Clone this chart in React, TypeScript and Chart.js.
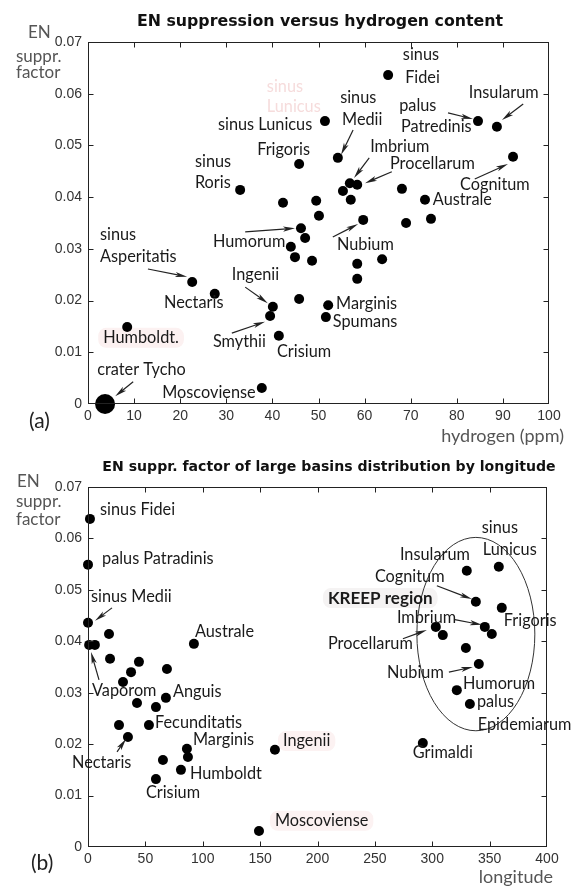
import React, { useEffect, useRef } from "react";
import { Chart, registerables } from "chart.js";

Chart.register(...registerables);

// ---------- Panel (a): EN suppression factor vs hydrogen content ----------
const hydrogenPpm = [
  8.5, 22.6, 27.5, 33.0, 37.7, 39.5, 40.1, 41.4, 42.3, 44.0, 44.9, 45.8, 45.8,
  46.2, 47.1, 48.6, 49.5, 50.1, 51.4, 51.6, 52.1, 54.2, 55.3, 56.8, 57.0, 58.4,
  58.4, 58.4, 59.7, 63.8, 65.1, 68.1, 69.0, 73.1, 74.4, 84.6, 88.7, 92.2,
];
const suppressionByHydrogen = [
  0.0149, 0.0236, 0.0213, 0.0414, 0.0031, 0.017, 0.0188, 0.0132, 0.0389, 0.0304,
  0.0284, 0.0464, 0.0203, 0.034, 0.0321, 0.0277, 0.0393, 0.0364, 0.0547, 0.0168,
  0.0191, 0.0476, 0.0412, 0.0427, 0.0395, 0.0424, 0.0271, 0.0242, 0.0356, 0.028,
  0.0636, 0.0416, 0.035, 0.0395, 0.0358, 0.0547, 0.0536, 0.0478,
];
const tychoHydrogen = [3.7];
const tychoSuppression = [0];

// ---------- Panel (b): EN suppression factor vs longitude ----------
const basinLongitude = [
  1.7, 0, 0, 18.3, 1, 6, 92.3, 19.2, 44.4, 37.5, 68.8, 30.5, 67.9, 42.7, 59.2,
  27.0, 53.1, 34.8, 86.2, 87.1, 65.3, 81.0, 59.2, 162.9, 149.0, 291.8, 330.1,
  358.0, 338.0, 360.6, 303.1, 309.2, 345.8, 351.9, 329.3, 340.6, 321.4, 332.8,
];
const suppressionByLongitude = [
  0.0638, 0.0549, 0.0436, 0.0414, 0.0393, 0.0393, 0.0395, 0.0366, 0.036, 0.034,
  0.0346, 0.0321, 0.029, 0.028, 0.0272, 0.0237, 0.0237, 0.0214, 0.0191, 0.0175,
  0.0169, 0.015, 0.0132, 0.0189, 0.0031, 0.0202, 0.0537, 0.0545, 0.0477, 0.0465,
  0.0428, 0.0412, 0.0428, 0.0414, 0.0387, 0.0356, 0.0305, 0.0278,
];

// KREEP region outline (data units: longitude, suppression factor)
const kreepCenter = [338, 0.0414];
const kreepRadii = [51.4, 0.0188];

// ---------- annotations (anchored in data units) ----------
type Label = { text: string; x: number; y: number; bold?: boolean; color?: string; bg?: string };
type Arrow = [number, number, number, number];

const labelsA: Label[] = [
  { text: "sinus", x: 68.3, y: 0.0675 },
  { text: "Fidei", x: 68.8, y: 0.0631 },
  { text: "sinus", x: 38.8, y: 0.0613, color: "#f6dcdc" },
  { text: "Lunicus", x: 38.8, y: 0.0574, color: "#f6dcdc" },
  { text: "sinus Lunicus", x: 28.2, y: 0.054 },
  { text: "Frigoris", x: 36.7, y: 0.0491 },
  { text: "sinus", x: 23.2, y: 0.0468 },
  { text: "Roris", x: 23.2, y: 0.0427 },
  { text: "sinus", x: 54.7, y: 0.0592 },
  { text: "Medii", x: 55.1, y: 0.0549 },
  { text: "palus", x: 67.5, y: 0.0576 },
  { text: "Patredinis", x: 67.9, y: 0.0536 },
  { text: "Insularum", x: 82.6, y: 0.0602 },
  { text: "Imbrium", x: 61.2, y: 0.0497 },
  { text: "Procellarum", x: 65.5, y: 0.0464 },
  { text: "Cognitum", x: 80.7, y: 0.0424 },
  { text: "Australe", x: 74.8, y: 0.0395 },
  { text: "Humorum", x: 27.1, y: 0.0313 },
  { text: "Nubium", x: 54.0, y: 0.0308 },
  { text: "sinus", x: 2.6, y: 0.0327 },
  { text: "Asperitatis", x: 2.6, y: 0.0284 },
  { text: "Nectaris", x: 16.5, y: 0.0195 },
  { text: "Ingenii", x: 31.2, y: 0.025 },
  { text: "Smythii", x: 27.1, y: 0.012 },
  { text: "Humboldt.", x: 3.3, y: 0.0128, bg: "#fcf1f1" },
  { text: "Crisium", x: 41.0, y: 0.0101 },
  { text: "Marginis", x: 53.8, y: 0.0193 },
  { text: "Spumans", x: 53.1, y: 0.0159 },
  { text: "crater Tycho", x: 2.0, y: 0.0066 },
  { text: "Moscoviense", x: 16.1, y: 0.0021 },
];
const arrowsA: Arrow[] = [
  [57.5, 0.053, 54.9, 0.0482],
  [78.1, 0.0563, 83.5, 0.0551],
  [94.4, 0.058, 89.8, 0.0549],
  [61.0, 0.0476, 57.7, 0.0437],
  [65.9, 0.0449, 60.1, 0.0427],
  [83.9, 0.0435, 91.1, 0.0464],
  [34.1, 0.0333, 44.9, 0.034],
  [53.1, 0.0323, 58.6, 0.0348],
  [13.0, 0.0261, 21.5, 0.0246],
  [34.1, 0.0226, 39.0, 0.0195],
  [31.2, 0.0137, 38.4, 0.0159],
  [9.8, 0.0043, 5.9, 0.0015],
];

const labelsB: Label[] = [
  { text: "sinus Fidei", x: 10.5, y: 0.0656 },
  { text: "palus Patradinis", x: 12.2, y: 0.056 },
  { text: "sinus Medii", x: 2.6, y: 0.0486 },
  { text: "Australe", x: 93.2, y: 0.0418 },
  { text: "Vaporom", x: 3.5, y: 0.0304 },
  { text: "Anguis", x: 74.0, y: 0.0302 },
  { text: "Fecunditatis", x: 58.4, y: 0.0241 },
  { text: "Marginis", x: 91.5, y: 0.0208 },
  { text: "Nectaris", x: -13.9, y: 0.0163 },
  { text: "Humboldt", x: 88.9, y: 0.0142 },
  { text: "Crisium", x: 50.5, y: 0.0105 },
  { text: "Ingenii", x: 169.9, y: 0.0206, bg: "#fcf2f2" },
  { text: "Moscoviense", x: 162.9, y: 0.0051, bg: "#fcf2f2" },
  { text: "Grimaldi", x: 283.1, y: 0.0183 },
  { text: "sinus", x: 343.2, y: 0.0621 },
  { text: "Lunicus", x: 344.1, y: 0.0578 },
  { text: "Insularum", x: 271.8, y: 0.0568 },
  { text: "Cognitum", x: 250.0, y: 0.0525 },
  { text: "KREEP region", x: 209.1, y: 0.0484, bold: true, bg: "#f5f3f3" },
  { text: "Imbrium", x: 269.2, y: 0.0446 },
  { text: "Frigoris", x: 362.4, y: 0.044 },
  { text: "Procellarum", x: 209.1, y: 0.0395 },
  { text: "Nubium", x: 260.5, y: 0.0339 },
  { text: "Humorum", x: 326.7, y: 0.0317 },
  { text: "palus", x: 338.9, y: 0.0282 },
  { text: "Epidemiarum", x: 339.7, y: 0.0237 },
];
const arrowsB: Arrow[] = [
  [20.9, 0.0465, 6.1, 0.044],
  [9.6, 0.0325, 2.6, 0.0379],
  [25.3, 0.0185, 33.1, 0.021],
  [304.0, 0.0508, 334.5, 0.0482],
  [319.7, 0.0442, 343.2, 0.0432],
  [274.4, 0.0405, 295.3, 0.0422],
  [314.5, 0.034, 335.4, 0.035],
];

// ---------- drawing helpers ----------
const LABEL_FAMILY = 'Lato, "Open Sans", sans-serif';
const LABEL_FONT = "16.3px " + LABEL_FAMILY;
const BOLD_FONT = "bold 17px " + LABEL_FAMILY;
const TICK_FONT = { family: '"Liberation Sans", Arial, sans-serif', size: 14 };

type Decor = {
  title: string;
  titleFont: string;
  titleX: number;
  titleY: number;
  yLabel: { text: string; x: number; y: number }[];
  xLabel: { text: string; x: number; y: number };
  panel: { text: string; x: number; y: number };
  labels: Label[];
  arrows: Arrow[];
  ellipse?: { c: number[]; r: number[] };
};

function drawArrow(ctx: CanvasRenderingContext2D, x1: number, y1: number, x2: number, y2: number) {
  const ang = Math.atan2(y2 - y1, x2 - x1);
  const len = 12;
  const hw = 2.6;
  const c = Math.cos(ang);
  const s = Math.sin(ang);
  ctx.beginPath();
  ctx.moveTo(x1, y1);
  ctx.lineTo(x2 - len * 0.7 * c, y2 - len * 0.7 * s);
  ctx.stroke();
  ctx.beginPath();
  ctx.moveTo(x2, y2);
  ctx.lineTo(x2 - len * c + hw * s, y2 - len * s - hw * c);
  ctx.lineTo(x2 - len * 0.75 * c, y2 - len * 0.75 * s);
  ctx.lineTo(x2 - len * c - hw * s, y2 - len * s + hw * c);
  ctx.closePath();
  ctx.fill();
}

function decorPlugin(d: Decor) {
  return {
    id: "decor",
    beforeDatasetsDraw(chart: any) {
      const { ctx, scales } = chart;
      ctx.save();
      d.labels.forEach((lb) => {
        if (!lb.bg) return;
        ctx.font = lb.bold ? BOLD_FONT : LABEL_FONT;
        const px = scales.x.getPixelForValue(lb.x);
        const py = scales.y.getPixelForValue(lb.y);
        const w = ctx.measureText(lb.text).width;
        ctx.fillStyle = lb.bg;
        ctx.beginPath();
        ctx.roundRect(px - 5, py - 10, w + 10, 20, 8);
        ctx.fill();
      });
      ctx.restore();
    },
    afterDraw(chart: any) {
      const { ctx, chartArea: a, scales } = chart;
      const xs = scales.x;
      const ys = scales.y;
      const L = Math.round(a.left) + 0.5;
      const R = Math.round(a.right) - 0.5;
      const T = Math.round(a.top) + 0.5;
      const B = Math.round(a.bottom) - 0.5;
      ctx.save();
      // frame with inward ticks on all sides
      ctx.strokeStyle = "#222";
      ctx.lineWidth = 1;
      ctx.strokeRect(L, T, R - L, B - T);
      const tl = 5;
      ctx.beginPath();
      xs.ticks.forEach((t: any) => {
        const p = Math.round(xs.getPixelForValue(t.value)) + 0.5;
        if (p <= L + 1 || p >= R - 1) return;
        ctx.moveTo(p, B);
        ctx.lineTo(p, B - tl);
        ctx.moveTo(p, T);
        ctx.lineTo(p, T + tl);
      });
      ys.ticks.forEach((t: any) => {
        const p = Math.round(ys.getPixelForValue(t.value)) + 0.5;
        if (p <= T + 1 || p >= B - 1) return;
        ctx.moveTo(L, p);
        ctx.lineTo(L + tl, p);
        ctx.moveTo(R, p);
        ctx.lineTo(R - tl, p);
      });
      ctx.stroke();

      // ellipse
      if (d.ellipse) {
        const cx = xs.getPixelForValue(d.ellipse.c[0]);
        const cy = ys.getPixelForValue(d.ellipse.c[1]);
        const rx = Math.abs(xs.getPixelForValue(d.ellipse.c[0] + d.ellipse.r[0]) - cx);
        const ry = Math.abs(ys.getPixelForValue(d.ellipse.c[1] + d.ellipse.r[1]) - cy);
        ctx.strokeStyle = "#333";
        ctx.beginPath();
        ctx.ellipse(cx, cy, rx, ry, 0, 0, Math.PI * 2);
        ctx.stroke();
      }

      // arrows
      ctx.strokeStyle = "#222";
      ctx.fillStyle = "#222";
      ctx.lineWidth = 1.2;
      d.arrows.forEach(([x1, y1, x2, y2]) => {
        drawArrow(
          ctx,
          xs.getPixelForValue(x1),
          ys.getPixelForValue(y1),
          xs.getPixelForValue(x2),
          ys.getPixelForValue(y2)
        );
      });

      // labels
      ctx.textBaseline = "middle";
      ctx.textAlign = "left";
      d.labels.forEach((lb) => {
        ctx.font = lb.bold ? BOLD_FONT : LABEL_FONT;
        ctx.fillStyle = lb.color || "#1a1a1a";
        ctx.fillText(lb.text, xs.getPixelForValue(lb.x), ys.getPixelForValue(lb.y));
      });

      // title
      ctx.font = d.titleFont;
      ctx.fillStyle = "#111";
      ctx.textAlign = "center";
      ctx.fillText(d.title, d.titleX, d.titleY);

      // axis labels
      ctx.font = "17px " + LABEL_FAMILY;
      ctx.fillStyle = "#555";
      ctx.textAlign = "left";
      d.yLabel.forEach((t) => ctx.fillText(t.text, t.x, t.y));
      ctx.font = "18px " + LABEL_FAMILY;
      ctx.textAlign = "right";
      ctx.fillText(d.xLabel.text, d.xLabel.x, d.xLabel.y);

      // panel letter
      ctx.font = "21px " + LABEL_FAMILY;
      ctx.fillStyle = "#222";
      ctx.textAlign = "left";
      ctx.fillText(d.panel.text, d.panel.x, d.panel.y);
      ctx.restore();
    },
  };
}

function makeConfig(
  datasets: any[],
  xMax: number,
  xStep: number,
  padding: any,
  xAxisHeight: number,
  decor: Decor
): any {
  return {
    type: "scatter",
    data: { datasets },
    options: {
      responsive: false,
      animation: false,
      devicePixelRatio: 1,
      layout: { padding },
      plugins: {
        legend: { display: false },
        tooltip: { enabled: false },
        title: { display: false },
      },
      scales: {
        x: {
          type: "linear",
          min: 0,
          max: xMax,
          ticks: {
            stepSize: xStep,
            padding: 4,
            autoSkip: false,
            maxRotation: 0,
            font: TICK_FONT,
            color: "#333",
            callback: (v: number) => String(v),
          },
          grid: { display: false, drawTicks: false },
          border: { display: false },
          afterFit: (s: any) => {
            s.height = xAxisHeight;
          },
        },
        y: {
          type: "linear",
          min: 0,
          max: 0.07,
          ticks: {
            stepSize: 0.01,
            padding: 6,
            autoSkip: false,
            font: TICK_FONT,
            color: "#333",
            callback: (v: number) => (Math.abs(v) < 1e-9 ? "0" : Number(v).toFixed(2)),
          },
          grid: { display: false, drawTicks: false },
          border: { display: false },
          afterFit: (s: any) => {
            s.width = 88;
          },
        },
      },
    },
    plugins: [decorPlugin(decor)],
  };
}

function points(xs: number[], ys: number[]) {
  return xs.map((x, i) => ({ x, y: ys[i] }));
}

export default function App() {
  const refA = useRef<HTMLCanvasElement>(null);
  const refB = useRef<HTMLCanvasElement>(null);

  useEffect(() => {
    const dot = { pointBackgroundColor: "#000", pointBorderWidth: 0, showLine: false, clip: false };
    const chartA = new Chart(
      refA.current!,
      makeConfig(
        [
          { ...dot, data: points(hydrogenPpm, suppressionByHydrogen), pointRadius: 5 },
          { ...dot, data: points(tychoHydrogen, tychoSuppression), pointRadius: 10 },
        ],
        100,
        10,
        { left: 0, right: 25, top: 42, bottom: 0 },
        56,
        {
          title: "EN suppression versus hydrogen content",
          titleFont: 'bold 15.8px "DejaVu Sans", Verdana, sans-serif',
          titleX: 320,
          titleY: 22,
          yLabel: [
            { text: "EN", x: 28, y: 33 },
            { text: "suppr.", x: 16, y: 57 },
            { text: "factor", x: 16, y: 73 },
          ],
          xLabel: { text: "hydrogen (ppm)", x: 564, y: 436 },
          panel: { text: "(a)", x: 29, y: 421 },
          labels: labelsA,
          arrows: arrowsA,
        }
      )
    );
    const chartB = new Chart(
      refB.current!,
      makeConfig(
        [{ ...dot, data: points(basinLongitude, suppressionByLongitude), pointRadius: 5 }],
        400,
        50,
        { left: 0, right: 27, top: 44, bottom: 0 },
        39,
        {
          title: "EN suppr. factor of large basins distribution by longitude",
          titleFont: 'bold 14.1px "DejaVu Sans", Verdana, sans-serif',
          titleX: 329,
          titleY: 24,
          yLabel: [
            { text: "EN", x: 17, y: 39 },
            { text: "suppr.", x: 16, y: 59 },
            { text: "factor", x: 16, y: 77 },
          ],
          xLabel: { text: "longitude", x: 553, y: 434 },
          panel: { text: "(b)", x: 31, y: 420 },
          labels: labelsB,
          arrows: arrowsB,
          ellipse: { c: kreepCenter, r: kreepRadii },
        }
      )
    );
    return () => {
      chartA.destroy();
      chartB.destroy();
    };
  }, []);

  return (
    <div style={{ position: "absolute", left: 0, top: 0, width: 574, height: 886, background: "#fff" }}>
      <canvas ref={refA} width={574} height={460} style={{ position: "absolute", left: 0, top: 0 }} />
      <canvas ref={refB} width={574} height={443} style={{ position: "absolute", left: 0, top: 443 }} />
    </div>
  );
}
